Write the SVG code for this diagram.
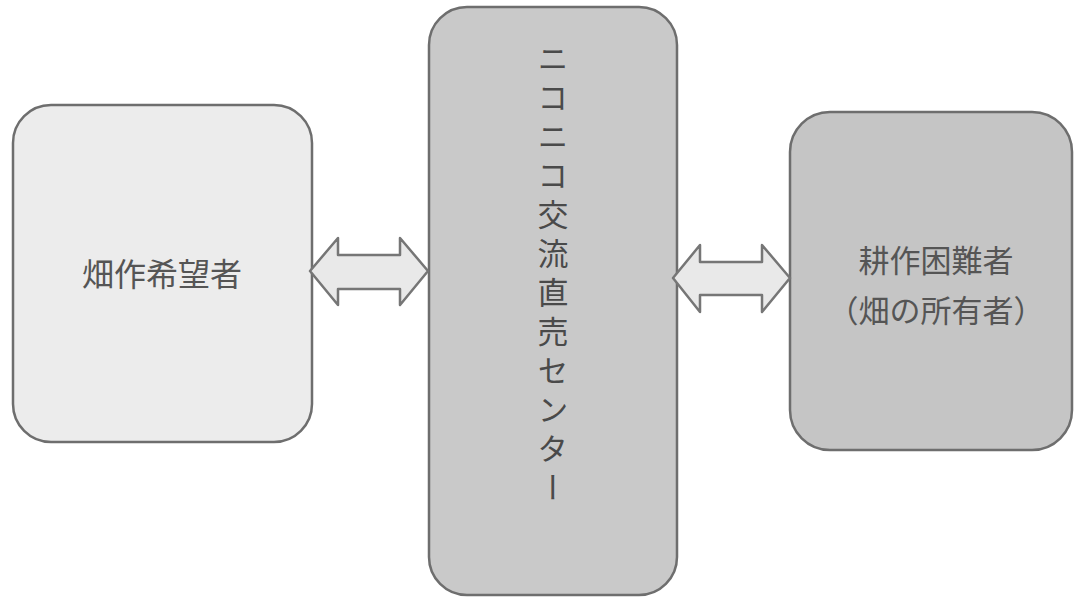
<svg xmlns="http://www.w3.org/2000/svg" width="1075" height="600" viewBox="0 0 1075 600">
<style>
.box{stroke:#6e6e6e;stroke-width:2.5}
.arr{fill:#e9e9e9;stroke:#767676;stroke-width:2.5;stroke-linejoin:round}
.t{font-family:"Noto Sans CJK JP","Noto Sans CJK SC",sans-serif;fill:#555}
</style>
<rect width="1075" height="600" fill="#ffffff"/>
<g id="node-left">
<rect class="box" x="13" y="105" width="299" height="337" rx="38" fill="#ececec"/>
<text class="t" x="162" y="286" font-size="32" text-anchor="middle">畑作希望者</text>
</g>
<g id="node-center">
<rect class="box" x="429" y="7" width="248" height="588" rx="38" fill="#c9c9c9"/>
<text class="t" x="553" y="43" font-size="31" style="writing-mode:vertical-rl;letter-spacing:8px;fill:#4a4a4a">ニコニコ交流直売センター</text>
</g>
<g id="node-right">
<rect class="box" x="790" y="112" width="282" height="338" rx="40" fill="#c5c5c5"/>
<text class="t" x="936" y="272" font-size="31" text-anchor="middle">耕作困難者</text>
<text class="t" x="936" y="322" font-size="31" text-anchor="middle">（畑の所有者）</text>
</g>
<g id="connectors">
<polygon class="arr" points="310,271 338,238 338,255 400,255 400,238 428,271 400,305 400,289 338,289 338,305"/>
<polygon class="arr" points="673,278 700,245 700,262 762,262 762,245 790,278 762,312 762,295 700,295 700,312"/>
</g>
</svg>
